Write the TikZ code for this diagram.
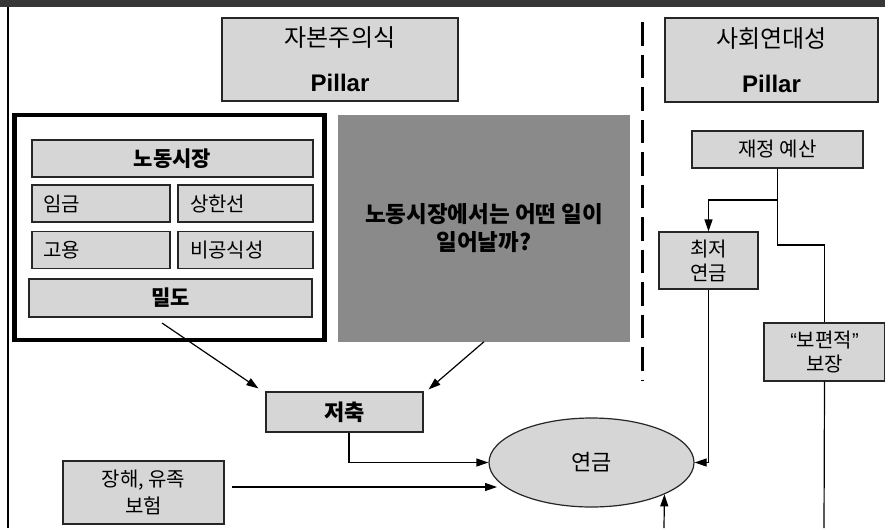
\documentclass[tikz,border=0pt]{standalone}
\usepackage{fontspec}
\newfontfamily\kr{Noto Sans CJK KR}
\newfontfamily\arialf{Liberation Sans}
\usetikzlibrary{arrows.meta,shapes.geometric}
\definecolor{boxfill}{RGB}{214,214,214}
\definecolor{darkfill}{RGB}{138,138,138}
\definecolor{bandfill}{RGB}{55,55,55}
\begin{document}
\begin{tikzpicture}[x=1pt,y=-1pt,
  gbox/.style={draw=black!85, line width=1.2pt, fill=boxfill, inner sep=0pt,
    font=\kr\fontsize{20}{24}\selectfont, align=center},
  lbox/.style={gbox, align=left, inner xsep=11pt, text width=116pt, minimum height=37pt},
  hbox/.style={gbox, font=\kr\fontsize{24}{45}\selectfont},
  arr/.style={line width=1.2pt, -{Triangle[length=12pt,width=8pt]}},
  ln/.style={line width=1.2pt}]
\useasboundingbox (0,0) rectangle (885,528);
% frame
\fill[bandfill] (0,0) rectangle (885,7);
\coordinate (bl1) at (8,7);
\coordinate (bl2) at (8,528);
\draw[line width=2.5pt] (bl1) -- (bl2);
% headers
\node[hbox, minimum width=236pt, minimum height=83pt] (cap) at (340,59.5)
  {자본주의식\\{\arialf\bfseries Pillar}};
\node[hbox, minimum width=213pt, minimum height=84pt] (sol) at (771.5,60)
  {사회연대성\\{\arialf\bfseries Pillar}};
% dashed divider
\coordinate (dtop) at (642,22);
\coordinate (dbot) at (642,381);
\draw[line width=3pt, dash pattern=on 23.5pt off 9pt] (dtop) -- (dbot);
% labour market frame
\node[draw, line width=4.5pt, minimum width=310pt, minimum height=225pt, inner sep=0pt] (lm) at (169.5,227.5) {};
\node[gbox, font=\kr\bfseries\fontsize{21}{24}\selectfont, minimum width=281pt, minimum height=37pt] (nd) at (172.5,158.5) {노동시장};
\node[lbox] (wage) at (101,203.5) {임금};
\node[lbox, inner xsep=12pt, text width=111pt] (cap2) at (245.5,203.5) {상한선};
\node[lbox] (emp) at (101,250) {고용};
\node[lbox, inner xsep=12pt, text width=111pt] (inf) at (245.5,250) {비공식성};
\node[gbox, font=\kr\bfseries\fontsize{21}{24}\selectfont, minimum width=283pt, minimum height=38pt] (den) at (170.5,298) {밀도};
% dark question box
\node[fill=darkfill, minimum width=292pt, minimum height=227pt, inner sep=0pt, align=center,
  font=\kr\bfseries\fontsize{22.5}{28}\selectfont] (q) at (484,228)
  {노동시장에서는 어떤 일이\\일어날까?};
% right column
\node[gbox, minimum width=171pt, minimum height=37pt] (bud) at (777.5,149.5) {재정 예산};
\node[gbox, minimum width=99pt, minimum height=57pt] (minp) at (708.5,260.5) {최저\\연금};
\node[gbox, minimum width=121pt, minimum height=58pt] (univ) at (824.5,352) {{\arialf “}보편적{\arialf ”}\\보장};
% savings, pension, insurance
\node[gbox, font=\kr\bfseries\fontsize{22}{24}\selectfont, minimum width=157pt, minimum height=40pt] (sav) at (344.5,412) {저축};
\node[ellipse, draw=black!85, line width=1.2pt, fill=boxfill, minimum width=205pt, minimum height=89pt, inner sep=0pt,
  font=\kr\fontsize{22}{24}\selectfont] (pen) at (591.5,462.5) {연금};
\node[gbox, font=\kr\fontsize{20}{27}\selectfont, minimum width=161pt, minimum height=63pt] (dis) at (143.5,492.5) {장해, 유족\\보험};
% connectors
\coordinate (a1) at (162,323);
\draw[arr] (a1) -- ([xshift=-7pt,yshift=3pt]sav.north west);
\draw[arr] (q.south) -- ([xshift=5pt,yshift=2pt]sav.north east);
\draw[arr] ([xshift=4.5pt]sav.south) |- (pen.west);
\coordinate (d1) at (232,487);
\coordinate (d2) at (497,487);
\draw[arr] (d1) -- (d2);
\coordinate (j1) at (777.5,200);
\coordinate (j2) at (777.5,245);
\draw[arr] (bud.south) -- (j1) -| (minp.north);
\draw[ln] (j1) -- (j2) -| (univ.north);
\draw[arr] (minp.south) |- (pen.east);
\coordinate (u1) at (824,528);
\draw[ln] (univ.south) -- (u1);
\coordinate (p1) at (664,528);
\draw[arr] (p1) -- (pen.south east);
\end{tikzpicture}
\end{document}
